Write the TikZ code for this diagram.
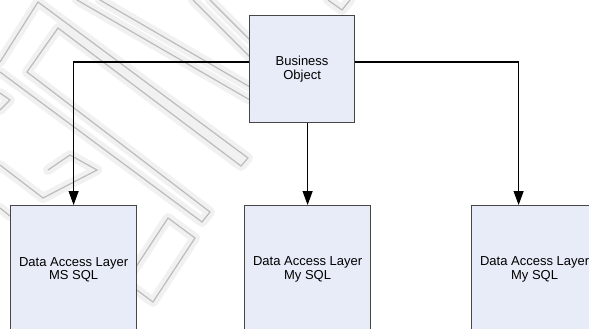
\documentclass[tikz,border=0pt]{standalone}
\usepackage{fontspec}
\setmainfont{Liberation Sans}
\usetikzlibrary{arrows.meta}
\definecolor{boxfill}{RGB}{232,236,248}
\definecolor{boxline}{RGB}{70,70,70}
\definecolor{wmcolor}{RGB}{188,188,188}
\definecolor{wmhalo}{RGB}{241,241,241}
\tikzset{
  layerbox/.style={draw=boxline, line width=1.2pt, fill=boxfill, inner sep=0pt,
    minimum width=126pt, minimum height=128pt, anchor=north west, align=center,
    font=\fontsize{13}{13.5}\selectfont},
  objbox/.style={layerbox, minimum width=105pt, minimum height=107pt},
  link/.style={draw=black, line width=1.1pt, -{Triangle[length=14pt,width=10pt]}},
  wmhaloline/.style={draw=wmhalo, line width=10pt, line join=round, line cap=round},
  wmline/.style={draw=wmcolor, line width=1.2pt, line join=miter},
}
\begin{document}
\begin{tikzpicture}[x=1pt, y=-1pt]
  \useasboundingbox (0,0) rectangle (589,329);
  \clip (0,0) rectangle (589,329);
  \fill[white] (0,0) rectangle (589,329);

  % faint background emblem
  \foreach \s in {wmhaloline, wmline} {
    \draw[\s] (0,62) -- (38,2) -- (248,158) -- (241,166) -- (58,28) -- (27,72)
      -- (210,212) -- (202,222) -- (0,72);
    \draw[\s] (77,0) -- (250,100);
    \draw[\s] (100,0) -- (250,87);
    \draw[\s] (193,0) -- (250,57);
    \draw[\s] (210,0) -- (250,40);
    \draw[\s] (328,0) -- (342,10) -- (350,0);
    \draw[\s] (0,93) -- (10,100) -- (0,110);
    \draw[\s] (0,165) -- (43,198) -- (97,170) -- (70,155) -- (48,170);
    \draw[\s] (168,218) -- (195,238) -- (153,302) -- (126,282) -- cycle;
    \draw[\s] (0,208) -- (10,216);
  }

  % boxes
  \node[objbox] (bo) at (249,15) {Business\\Object};
  \node[layerbox] (dal1) at (10,205) {Data Access Layer\\MS SQL};
  \node[layerbox] (dal2) at (244,205) {Data Access Layer\\My SQL};
  \node[layerbox] (dal3) at (471,205) {Data Access Layer\\My SQL};

  % connectors
  \draw[link] ([yshift=-47pt]bo.north west) -| (dal1.north);
  \draw[link] (bo.south -| dal2.north) -- (dal2.north);
  \draw[link] ([yshift=-47pt]bo.north east) -| ([xshift=-16pt]dal3.north);
\end{tikzpicture}
\end{document}
